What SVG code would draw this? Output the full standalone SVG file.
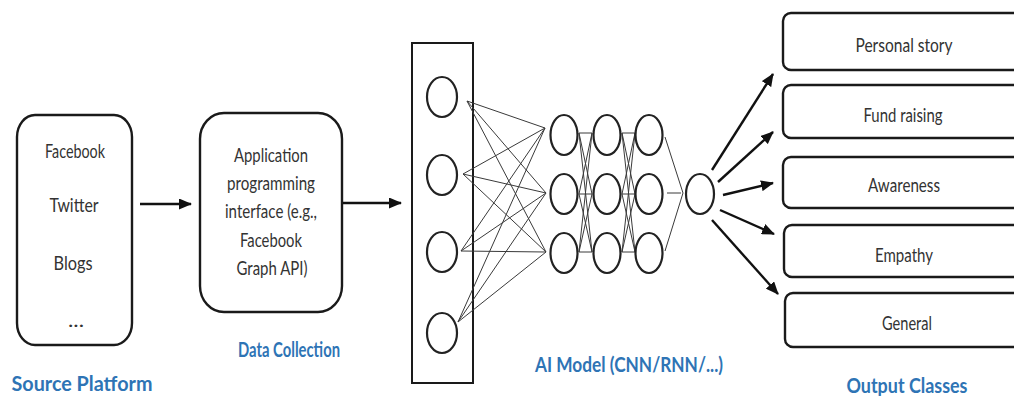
<svg xmlns="http://www.w3.org/2000/svg" width="1014" height="396" viewBox="0 0 1014 396">
  <style>
    .box { fill: #fff; stroke: #1a1a1a; stroke-width: 2.4; }
    .neuron { fill: #fff; stroke: #222; stroke-width: 2.2; }
    .wire { stroke: #3a3a3a; stroke-width: 1; fill: none; }
    .flow { stroke: #111; stroke-width: 2.4; fill: none; marker-end: url(#arrow); }
    .t { font-family: Lato, "Liberation Sans", sans-serif; font-size: 18.5px; fill: #333; text-anchor: middle; }
    .label { font-family: Lato, "Liberation Sans", sans-serif; font-size: 21.5px; font-weight: bold; fill: #2E74B5; text-anchor: middle; }
  </style>
  <defs>
    <marker id="arrow" viewBox="0 0 13 11" refX="12" refY="5.5" markerWidth="13" markerHeight="11" markerUnits="userSpaceOnUse" orient="auto">
      <path d="M0,0 L13,5.5 L0,11 z" fill="#111"/>
    </marker>
  </defs>

  <!-- Source platform -->
  <g id="source-platform">
    <rect class="box" x="17" y="115" width="115" height="230" rx="18" ry="22"/>
    <text class="t" x="75" y="158" textLength="60" lengthAdjust="spacingAndGlyphs">Facebook</text>
    <text class="t" x="74" y="212" textLength="49" lengthAdjust="spacingAndGlyphs">Twitter</text>
    <text class="t" x="73" y="270" textLength="39" lengthAdjust="spacingAndGlyphs">Blogs</text>
    <text class="t" x="76" y="327" textLength="16" lengthAdjust="spacingAndGlyphs">...</text>
    <text class="label" x="82" y="391" textLength="141" lengthAdjust="spacingAndGlyphs">Source Platform</text>
  </g>

  <!-- Data collection -->
  <g id="data-collection">
    <rect class="box" x="200" y="113" width="142" height="199" rx="24" ry="26"/>
    <text class="t" x="271" y="162" textLength="74" lengthAdjust="spacingAndGlyphs">Application</text>
    <text class="t" x="271" y="190" textLength="88" lengthAdjust="spacingAndGlyphs">programming</text>
    <text class="t" x="271" y="218" textLength="92" lengthAdjust="spacingAndGlyphs">interface (e.g.,</text>
    <text class="t" x="271" y="247" textLength="62" lengthAdjust="spacingAndGlyphs">Facebook</text>
    <text class="t" x="272" y="275" textLength="71" lengthAdjust="spacingAndGlyphs">Graph API)</text>
    <text class="label" x="289" y="357" textLength="102" lengthAdjust="spacingAndGlyphs">Data Collection</text>
  </g>

  <!-- AI model: input layer, hidden layers, output neuron -->
  <g id="ai-model">
    <rect x="412" y="43" width="61" height="340" fill="none" stroke="#1a1a1a" stroke-width="2"/>
    <g id="model-wires">
      <!-- input layer to first hidden layer -->
      <path class="wire" d="M467,101 L545,128 M467,101 L546,193 M467,101 L546,252
                            M463,174 L545,128 M463,174 L546,193 M463,174 L546,252
                            M461,251 L545,128 M461,251 L546,193 M461,251 L546,252
                            M458,322 L545,128 M458,322 L546,193 M458,322 L546,252"/>
      <!-- first to second hidden layer -->
      <path class="wire" d="M579,133 L592,133 M579,133 L592,194 M579,133 L592,252
                            M579,194 L592,133 M579,194 L592,194 M579,194 L592,252
                            M579,252 L592,133 M579,252 L592,194 M579,252 L592,252"/>
      <!-- second to third hidden layer -->
      <path class="wire" d="M622,133 L635,133 M622,133 L635,194 M622,133 L635,252
                            M622,194 L635,133 M622,194 L635,194 M622,194 L635,252
                            M622,252 L635,133 M622,252 L635,194 M622,252 L635,252"/>
      <!-- third hidden layer to output neuron -->
      <path class="wire" d="M665,137 L683,193 M665,251 L683,193 M667,193 L681,193"/>
    </g>
    <g id="input-layer">
      <ellipse class="neuron" cx="442" cy="97" rx="15" ry="20"/>
      <ellipse class="neuron" cx="442" cy="175" rx="15" ry="20"/>
      <ellipse class="neuron" cx="442" cy="252" rx="15" ry="20"/>
      <ellipse class="neuron" cx="442" cy="333" rx="15" ry="20"/>
    </g>
    <g id="hidden-1">
      <ellipse class="neuron" cx="564" cy="135" rx="13.5" ry="20"/>
      <ellipse class="neuron" cx="564" cy="194" rx="13.5" ry="20"/>
      <ellipse class="neuron" cx="564" cy="253" rx="13.5" ry="20"/>
    </g>
    <g id="hidden-2">
      <ellipse class="neuron" cx="607" cy="135" rx="13.5" ry="20"/>
      <ellipse class="neuron" cx="607" cy="194" rx="13.5" ry="20"/>
      <ellipse class="neuron" cx="607" cy="253" rx="13.5" ry="20"/>
    </g>
    <g id="hidden-3">
      <ellipse class="neuron" cx="649" cy="135" rx="13.5" ry="20"/>
      <ellipse class="neuron" cx="649" cy="194" rx="13.5" ry="20"/>
      <ellipse class="neuron" cx="649" cy="253" rx="13.5" ry="20"/>
    </g>
    <g id="output-neuron">
      <ellipse class="neuron" cx="700" cy="194" rx="14" ry="20"/>
    </g>
    <text class="label" x="629" y="372" textLength="188" lengthAdjust="spacingAndGlyphs">AI Model (CNN/RNN/...)</text>
  </g>

  <!-- Output classes -->
  <g id="class-personal-story">
    <rect class="box" x="783" y="13" width="250" height="57" rx="8"/>
    <text class="t" x="904" y="52" textLength="97" lengthAdjust="spacingAndGlyphs">Personal story</text>
  </g>
  <g id="class-fund-raising">
    <rect class="box" x="783" y="85" width="250" height="53" rx="8"/>
    <text class="t" x="903" y="122" textLength="79" lengthAdjust="spacingAndGlyphs">Fund raising</text>
  </g>
  <g id="class-awareness">
    <rect class="box" x="783" y="157" width="250" height="51" rx="8"/>
    <text class="t" x="904" y="192" textLength="72" lengthAdjust="spacingAndGlyphs">Awareness</text>
  </g>
  <g id="class-empathy">
    <rect class="box" x="784" y="225" width="250" height="52" rx="8"/>
    <text class="t" x="904" y="262" textLength="58" lengthAdjust="spacingAndGlyphs">Empathy</text>
  </g>
  <g id="class-general">
    <rect class="box" x="785" y="293" width="250" height="54" rx="8"/>
    <text class="t" x="907" y="330" textLength="50" lengthAdjust="spacingAndGlyphs">General</text>
  </g>
  <text class="label" x="907" y="393" textLength="121" lengthAdjust="spacingAndGlyphs">Output Classes</text>

  <!-- Connectors -->
  <g id="connectors">
    <line class="flow" x1="140" y1="204" x2="191" y2="204"/>
    <line class="flow" x1="343" y1="203" x2="401" y2="203"/>
    <line class="flow" x1="712" y1="170" x2="773" y2="74"/>
    <line class="flow" x1="718" y1="182" x2="773" y2="132"/>
    <line class="flow" x1="723" y1="195" x2="773" y2="183"/>
    <line class="flow" x1="720" y1="210" x2="774" y2="234"/>
    <line class="flow" x1="712" y1="220" x2="778" y2="294"/>
  </g>
</svg>
